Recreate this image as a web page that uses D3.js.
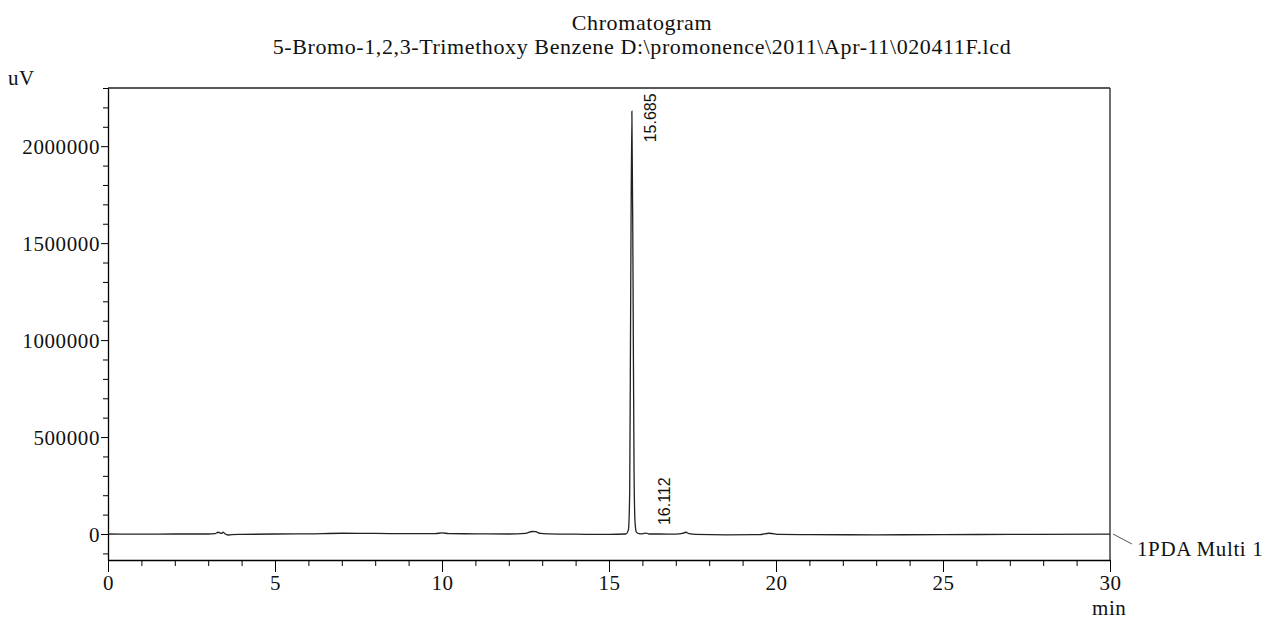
<!DOCTYPE html>
<html>
<head>
<meta charset="utf-8">
<script src="https://cdn.jsdelivr.net/npm/d3@7"></script>
<style>
  body { margin: 0; background: #fff; }
  text { font-family: "Liberation Serif", "Times New Roman", serif; fill: #111; letter-spacing: 0.6px; }
  text.peak { font-family: "Liberation Sans", Arial, sans-serif; letter-spacing: 0; }
</style>
</head>
<body>
<div class="chart"></div>
<script>
const titleLines = ["Chromatogram", "5-Bromo-1,2,3-Trimethoxy Benzene D:\\promonence\\2011\\Apr-11\\020411F.lcd"];
const xTicks = [0, 5, 10, 15, 20, 25, 30];
const yTicks = [0, 500000, 1000000, 1500000, 2000000];
const times = [0, 1, 2, 3, 3.2, 3.3, 3.4, 3.45, 3.5, 3.6, 3.7, 4, 5, 6, 7, 8, 9, 9.8, 10, 10.2, 11, 12, 12.5, 12.7, 12.8, 12.95, 13.2, 14, 15, 15.5, 15.58, 15.62, 15.65, 15.685, 15.72, 15.75, 15.78, 15.82, 15.9, 16.0, 16.11, 16.2, 16.5, 17, 17.2, 17.3, 17.4, 17.6, 18.5, 19.5, 19.8, 20.1, 21, 23, 25, 27, 30];
const signal = [0, -1000, 0, 0, 2000, 9000, 3000, 10000, 1000, -5000, -3000, -2000, 0, 1000, 4000, 3000, 2000, 2000, 6000, 2000, 1000, 0, 3000, 13000, 12000, 3000, 1000, -1000, -2000, 0, 20000, 220000, 1250000, 2180000, 1300000, 320000, 60000, 10000, 2000, 1000, 5000, 0, 0, -1000, 3000, 9000, 2000, -2000, -4000, -3000, 4000, -2000, -3000, -4000, -3000, -2000, -1000];
const peakTimes = [15.685, 16.112];
const peakLabels = ["15.685", "16.112"];
const peakLabelLevels = [2020000, 46000];

const width = 1267, height = 619;
const margin = { top: 88, right: 157, bottom: 59, left: 108 };

const svg = d3.select(".chart").append("svg")
  .attr("width", width)
  .attr("height", height);

const x = d3.scaleLinear().domain([0, 30]).range([margin.left, width - margin.right]);
const y = d3.scaleLinear().domain([-134000, 2300000]).range([height - margin.bottom, margin.top]);

// titles
svg.selectAll(".title").data(titleLines).join("text")
  .attr("x", 642)
  .attr("y", (d, i) => 30 + i * 24)
  .attr("text-anchor", "middle")
  .style("font-size", "22px")
  .text((d) => d);

svg.append("text").attr("x", 8).attr("y", 85).style("font-size", "21px").text("uV");
svg.append("text").attr("x", x(30) - 18).attr("y", 615).style("font-size", "21px").text("min");

// frame
const frame = svg.append("g").attr("stroke", "#222").attr("fill", "none").attr("stroke-width", 1.3);
frame.append("line").attr("x1", x(0)).attr("x2", x(30)).attr("y1", y.range()[1]).attr("y2", y.range()[1]);
frame.append("line").attr("x1", x(30)).attr("x2", x(30)).attr("y1", y.range()[1]).attr("y2", y.range()[0]);

// y axis
const yAxis = svg.append("g").attr("transform", `translate(${x(0)},0)`)
  .call(d3.axisLeft(y).tickValues(yTicks).tickSize(7).tickSizeOuter(0).tickFormat(d3.format("d")).tickPadding(1));
yAxis.selectAll(".tick text").style("font-size", "21px").attr("dy", "0.34em");
yAxis.select(".domain").attr("stroke-width", 1.3);
svg.append("g").attr("transform", `translate(${x(0)},0)`)
  .call(d3.axisLeft(y).tickValues(d3.range(-100000, 2300001, 100000).filter((v) => v % 500000 !== 0)).tickSize(5).tickFormat(""))
  .select(".domain").remove();

// x axis
const xAxis = svg.append("g").attr("transform", `translate(0,${y.range()[0]})`)
  .call(d3.axisBottom(x).tickValues(xTicks).tickSize(12).tickSizeOuter(0).tickPadding(3));
xAxis.selectAll(".tick text").style("font-size", "21px");
xAxis.select(".domain").attr("stroke-width", 1.3);
svg.append("g").attr("transform", `translate(0,${y.range()[0]})`)
  .call(d3.axisBottom(x).tickValues(d3.range(1, 30).filter((v) => v % 5 !== 0)).tickSize(6).tickFormat(""))
  .select(".domain").remove();

// signal
const series = times.map((t, i) => [t, signal[i]]);
const line = d3.line().x((d) => x(d[0])).y((d) => y(d[1])).curve(d3.curveMonotoneX);
svg.append("path").datum(series)
  .attr("fill", "none")
  .attr("stroke", "#222")
  .attr("stroke-width", 1.3)
  .attr("d", line);

// peak labels
svg.selectAll(".peak").data(peakTimes).join("text")
  .attr("class", "peak")
  .attr("transform", (d, i) => `translate(${x(d) + 24},${y(peakLabelLevels[i])}) rotate(-90)`)
  .attr("text-anchor", "start")
  .style("font-size", "16px")
  .text((d, i) => peakLabels[i]);

// channel label
svg.append("line")
  .attr("x1", x(30) + 3).attr("y1", y(0))
  .attr("x2", x(30) + 22).attr("y2", y(0) + 10)
  .attr("stroke", "#555").attr("stroke-width", 1);
svg.append("text").attr("x", x(30) + 27).attr("y", y(0) + 22).style("font-size", "21px").text("1PDA Multi 1");
</script>
</body>
</html>
